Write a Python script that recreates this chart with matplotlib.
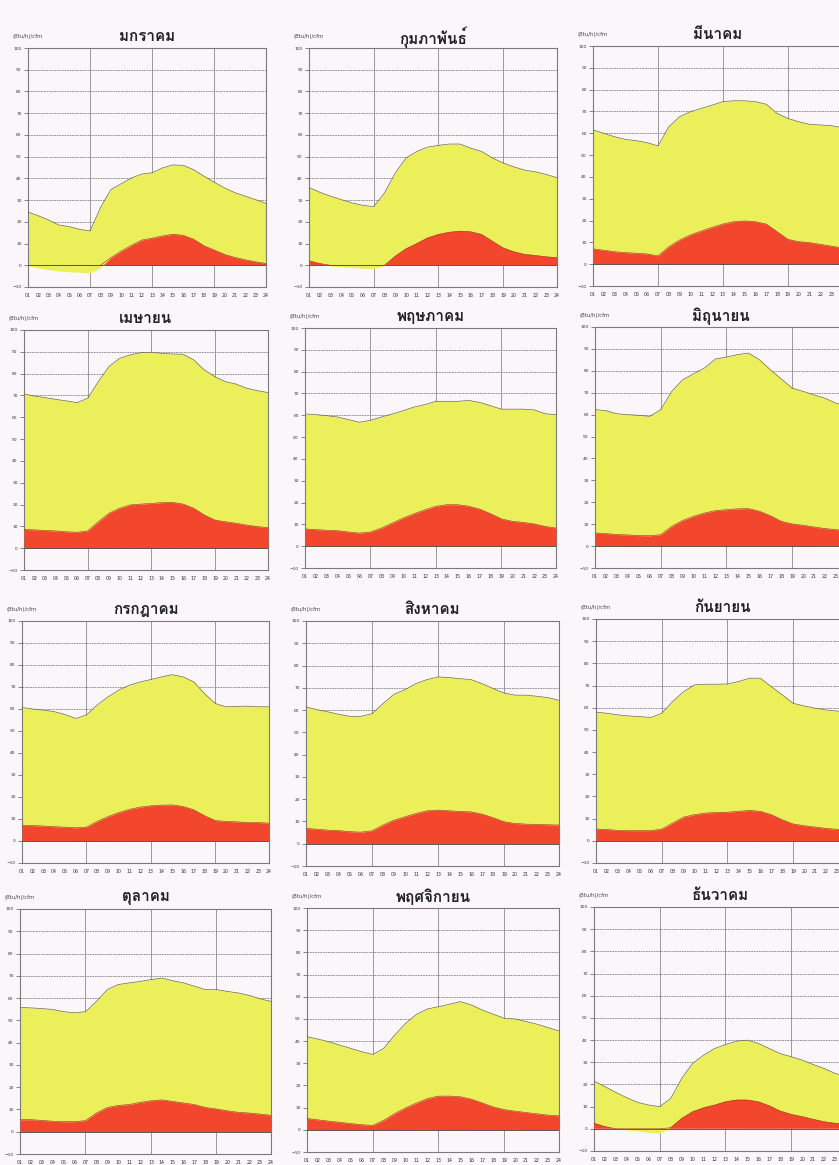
import matplotlib
matplotlib.use("Agg")
import matplotlib.pyplot as plt
import numpy as np

# hourly enthalpy load, (Btu/h)/cfm: total (yellow) and latent (red)
hours = np.arange(1, 25)
hour_labels = ["%02d" % h for h in hours]

jan_total = [24.5, 22.8, 20.8, 18.5, 17.8, 16.5, 15.8, 26.5, 34.8, 37.5, 40.2, 42.0, 42.6, 44.8, 46.2, 46.0, 44.0, 41.0, 38.2, 35.6, 33.4, 31.8, 30.2, 28.5]
jan_latent = [-0.3, -1.2, -2.0, -2.6, -3.0, -3.2, -3.6, -1.0, 3.5, 6.5, 9.2, 11.6, 12.5, 13.5, 14.3, 13.8, 12.0, 9.0, 7.0, 5.0, 3.6, 2.5, 1.6, 0.8]

feb_total = [35.8, 33.6, 31.8, 30.2, 28.7, 27.6, 27.0, 33.3, 42.5, 49.4, 52.4, 54.4, 55.2, 55.8, 55.8, 53.9, 52.4, 49.4, 47.1, 45.3, 43.8, 43.0, 41.8, 40.3]
feb_latent = [2.0, 0.8, -0.3, -0.6, -1.0, -1.4, -1.5, -0.2, 4.2, 7.6, 10.0, 12.6, 14.2, 15.2, 15.7, 15.4, 14.2, 11.1, 8.0, 6.2, 5.0, 4.5, 3.9, 3.5]

mar_total = [61.5, 60.0, 58.4, 57.2, 56.6, 55.7, 54.2, 63.0, 67.6, 69.9, 71.4, 72.9, 74.5, 74.9, 74.9, 74.5, 73.3, 69.1, 66.8, 65.3, 64.1, 63.8, 63.5, 62.6]
mar_latent = [7.0, 6.4, 5.7, 5.3, 5.0, 4.7, 3.8, 8.0, 11.1, 13.4, 15.2, 16.9, 18.4, 19.5, 19.8, 19.5, 18.4, 14.9, 11.4, 10.3, 9.9, 9.1, 8.3, 7.5]

apr_total = [70.7, 69.7, 69.0, 68.2, 67.5, 66.7, 68.7, 76.3, 83.2, 87.0, 88.6, 89.6, 89.8, 89.3, 89.0, 88.9, 86.3, 81.7, 78.6, 76.3, 75.2, 73.3, 72.2, 71.3]
apr_latent = [8.6, 8.4, 8.1, 7.9, 7.5, 7.3, 7.9, 12.1, 16.0, 18.3, 19.8, 20.2, 20.5, 20.9, 21.0, 20.2, 18.3, 15.2, 12.9, 12.1, 11.4, 10.6, 9.9, 9.4]

may_total = [60.6, 60.3, 59.8, 59.2, 58.0, 56.8, 57.7, 59.2, 60.6, 62.1, 63.8, 64.9, 66.4, 66.4, 66.4, 66.8, 65.9, 64.4, 62.8, 62.8, 62.8, 62.5, 60.7, 60.3]
may_latent = [7.9, 7.6, 7.3, 7.1, 6.5, 6.0, 6.5, 8.3, 10.6, 12.9, 14.9, 16.7, 18.3, 19.0, 19.0, 18.3, 17.0, 14.9, 12.5, 11.4, 10.9, 10.2, 9.1, 8.3]

jun_total = [62.3, 61.8, 60.4, 60.0, 59.7, 59.2, 62.3, 70.6, 75.9, 78.7, 81.3, 85.4, 86.3, 87.4, 88.1, 85.1, 80.5, 76.3, 72.1, 70.6, 69.0, 67.5, 65.2, 64.0]
jun_latent = [6.0, 5.7, 5.3, 5.1, 4.8, 4.7, 5.2, 9.0, 11.7, 13.6, 15.1, 16.2, 16.6, 17.0, 17.1, 15.9, 13.9, 11.3, 10.1, 9.5, 8.7, 8.0, 7.5, 7.0]

jul_total = [60.7, 60.0, 59.5, 58.8, 57.5, 55.7, 57.3, 61.8, 65.5, 68.6, 70.8, 72.3, 73.4, 74.6, 75.6, 74.6, 72.3, 67.0, 62.5, 61.0, 61.2, 61.3, 61.0, 61.0]
jul_latent = [7.1, 7.0, 6.8, 6.5, 6.3, 6.0, 6.3, 8.9, 11.1, 12.9, 14.4, 15.4, 16.0, 16.3, 16.4, 15.7, 14.2, 11.5, 9.3, 8.9, 8.7, 8.4, 8.4, 8.1]

aug_total = [61.4, 60.2, 59.2, 58.1, 57.2, 57.2, 58.4, 62.9, 67.1, 69.2, 71.9, 73.7, 74.9, 74.6, 74.1, 73.7, 71.9, 69.7, 67.7, 66.7, 66.7, 66.2, 65.6, 64.4]
aug_latent = [6.9, 6.5, 6.1, 5.9, 5.4, 5.2, 5.8, 8.4, 10.6, 12.1, 13.6, 14.8, 15.1, 14.8, 14.5, 14.3, 13.3, 11.7, 9.9, 9.1, 8.8, 8.7, 8.5, 8.4]

sep_total = [58.0, 57.5, 56.8, 56.3, 56.0, 55.6, 57.5, 62.8, 67.3, 70.3, 70.6, 70.6, 70.7, 71.8, 73.3, 73.3, 69.5, 65.8, 62.0, 60.8, 59.8, 59.0, 58.5, 58.0]
sep_latent = [5.3, 5.1, 4.7, 4.6, 4.6, 4.6, 5.3, 8.0, 10.7, 11.8, 12.5, 12.8, 12.9, 13.3, 13.7, 13.3, 11.8, 9.5, 7.6, 6.8, 6.2, 5.6, 5.2, 5.0]

oct_total = [55.8, 55.6, 55.3, 54.9, 53.9, 53.4, 53.9, 58.5, 63.8, 66.1, 66.8, 67.5, 68.3, 69.0, 67.8, 66.8, 65.3, 63.8, 63.8, 63.0, 62.3, 61.2, 59.7, 58.5]
oct_latent = [5.4, 5.4, 5.1, 4.7, 4.5, 4.5, 5.0, 8.4, 10.9, 11.8, 12.2, 13.2, 13.9, 14.3, 13.6, 12.9, 12.2, 10.9, 10.2, 9.4, 8.7, 8.4, 7.9, 7.4]

nov_total = [42.0, 40.9, 39.7, 38.2, 36.7, 35.2, 34.0, 36.7, 42.7, 48.0, 52.1, 54.5, 55.5, 56.6, 57.8, 56.3, 54.0, 52.1, 50.3, 50.0, 48.8, 47.6, 46.1, 44.6]
nov_latent = [5.1, 4.5, 3.9, 3.4, 2.8, 2.3, 2.0, 4.3, 7.3, 9.9, 12.1, 14.1, 15.2, 15.2, 14.9, 13.8, 12.1, 10.3, 9.1, 8.4, 7.8, 7.2, 6.6, 6.3]

dec_total = [21.5, 19.0, 16.4, 14.0, 11.9, 10.7, 10.0, 13.7, 22.7, 29.5, 33.2, 36.2, 38.0, 39.5, 40.0, 38.5, 36.2, 33.9, 32.5, 31.0, 29.0, 27.2, 25.0, 23.5]
dec_latent = [2.5, 1.0, -0.1, -0.5, -1.0, -1.6, -2.0, 0.5, 4.7, 7.7, 9.5, 10.7, 12.2, 13.0, 13.0, 12.2, 10.4, 8.0, 6.5, 5.5, 4.3, 3.2, 2.5, 2.0]

month_names = ["มกราคม", "กุมภาพันธ์", "มีนาคม", "เมษายน", "พฤษภาคม", "มิถุนายน",
               "กรกฎาคม", "สิงหาคม", "กันยายน", "ตุลาคม", "พฤศจิกายน", "ธันวาคม"]
totals = [jan_total, feb_total, mar_total, apr_total, may_total, jun_total,
          jul_total, aug_total, sep_total, oct_total, nov_total, dec_total]
latents = [jan_latent, feb_latent, mar_latent, apr_latent, may_latent, jun_latent,
           jul_latent, aug_latent, sep_latent, oct_latent, nov_latent, dec_latent]
unit_label = "(Btu/h)/cfm"

# plot boxes in pixels: left, top, right, bottom (right column runs off the page)
boxes = [
    (28, 48, 266, 287), (309, 48, 557, 287), (593, 46, 842, 286),
    (24, 330, 268, 570), (305, 328, 556, 568), (595, 327, 847, 568),
    (22, 621, 269, 863), (306, 621, 559, 866), (596, 619, 848, 863),
    (20, 909, 271, 1154), (307, 908, 559, 1152), (594, 907, 846, 1151),
]

W, H = 839, 1165
bg = "#fbf6fa"
yellow = "#ebef5a"
red = "#f2472d"

fig = plt.figure(figsize=(W / 100, H / 100), dpi=100, facecolor=bg)

for name, total, latent, (l, t, r, b) in zip(month_names, totals, latents, boxes):
    ax = fig.add_axes([l / W, 1 - b / H, (r - l) / W, (b - t) / H])
    ax.set_facecolor(bg)
    total = np.array(total)
    latent = np.array(latent)

    # grid first so the fills cover it
    for y in range(-10, 101, 10):
        ax.axhline(y, color="#6a6a6a", lw=0.5, ls=(0, (2.5, 1.2)), zorder=1)
    for x in (7, 13, 19):
        ax.axvline(x, color="#8a8a8a", lw=0.6, zorder=1)

    ax.fill_between(hours, latent, total, color=yellow, lw=0, zorder=2)
    ax.fill_between(hours, 0, latent, where=latent > 0, interpolate=True,
                    color=red, lw=0, zorder=3)
    ax.plot(hours, total, color="#6f6a40", lw=0.5, zorder=4)
    ax.plot(hours, np.clip(latent, 0, None), color="#9a2a18", lw=0.4, zorder=4)
    ax.axhline(0, color="#505050", lw=0.6, zorder=5)

    ax.set_xlim(1, 24)
    ax.set_ylim(-10, 100)
    ax.set_yticks(range(-10, 101, 10))
    ax.set_xticks(hours)
    ax.set_xticklabels(hour_labels)
    ax.tick_params(axis="y", length=3, width=0.5, color="#555", labelsize=3.2,
                   labelcolor="#333", pad=1.5)
    ax.tick_params(axis="x", length=0, labelsize=3.4, labelcolor="#333", pad=4)
    for s in ax.spines.values():
        s.set_color("#7a7a7a")
        s.set_linewidth(0.8)

    ax.annotate(name, (0.5, 1), xycoords="axes fraction", xytext=(0, 8),
                textcoords="offset points", ha="center", va="center",
                fontsize=11, fontweight="bold", family=["Loma", "DejaVu Sans"],
                color="#222")
    ax.annotate(unit_label, (0, 1), xycoords="axes fraction", xytext=(-11, 8),
                textcoords="offset points", ha="left", va="center",
                fontsize=3.8, color="#444")

fig.savefig("out.png", dpi=100, facecolor=bg)
